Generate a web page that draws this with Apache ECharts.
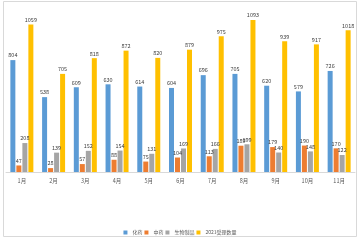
<!DOCTYPE html>
<html><head><meta charset="utf-8">
<script src="https://cdn.jsdelivr.net/npm/echarts@6/dist/echarts.min.js"></script>
<style>html,body{margin:0;padding:0;background:#fff}#c{width:360px;height:240px}</style>
</head><body><div id="c"></div>
<script>
const categories = ['1月','2月','3月','4月','5月','6月','7月','8月','9月','10月','11月'];
const huayao = [804, 538, 609, 630, 614, 604, 696, 705, 620, 579, 726];
const zhongyao = [47, 28, 57, 88, 75, 104, 113, 189, 179, 190, 170];
const shengwu = [208, 139, 152, 154, 131, 169, 166, 199, 140, 148, 122];
const shouli = [1059, 705, 818, 872, 820, 879, 975, 1093, 939, 917, 1018];
const names = ['化药','中药','生物制品','2021受理数量'];
const colors = ['#5B9BD5','#ED7D31','#A5A5A5','#FFC000'];
const font = '"Noto Sans CJK SC", "Noto Sans", sans-serif';
const chart = echarts.init(document.getElementById('c'), null, {renderer:'canvas'});
const mk = (name, data, color) => ({
  name, type:'bar', data, barWidth:5, barGap:'20%',
  itemStyle:{color},
  label:{show:true, position:'top', distance:2, fontSize:5.5, color:'#404040', fontFamily:font}
});
chart.setOption({
  animation:false,
  backgroundColor:'#fff',
  graphic:[{type:'rect', shape:{x:3.5,y:1.5,width:353,height:235}, style:{fill:'none', stroke:'#d9d9d9', lineWidth:1}, silent:true}],
  grid:{left:6, right:5, top:5, bottom:68},
  legend:{top:225, left:'center', itemWidth:4, itemHeight:4, itemGap:2, icon:'rect',
    textStyle:{fontSize:5, color:'#595959', fontFamily:font}, data:names},
  xAxis:{type:'category', data:categories,
    axisLine:{lineStyle:{color:'#d9d9d9'}}, axisTick:{show:false},
    axisLabel:{fontSize:5.5, color:'#595959', fontFamily:font, margin:6}},
  yAxis:{type:'value', min:0, max:1200, show:false, splitLine:{show:false}},
  series:[mk(names[0],huayao,colors[0]), mk(names[1],zhongyao,colors[1]), mk(names[2],shengwu,colors[2]), mk(names[3],shouli,colors[3])]
});
</script></body></html>
